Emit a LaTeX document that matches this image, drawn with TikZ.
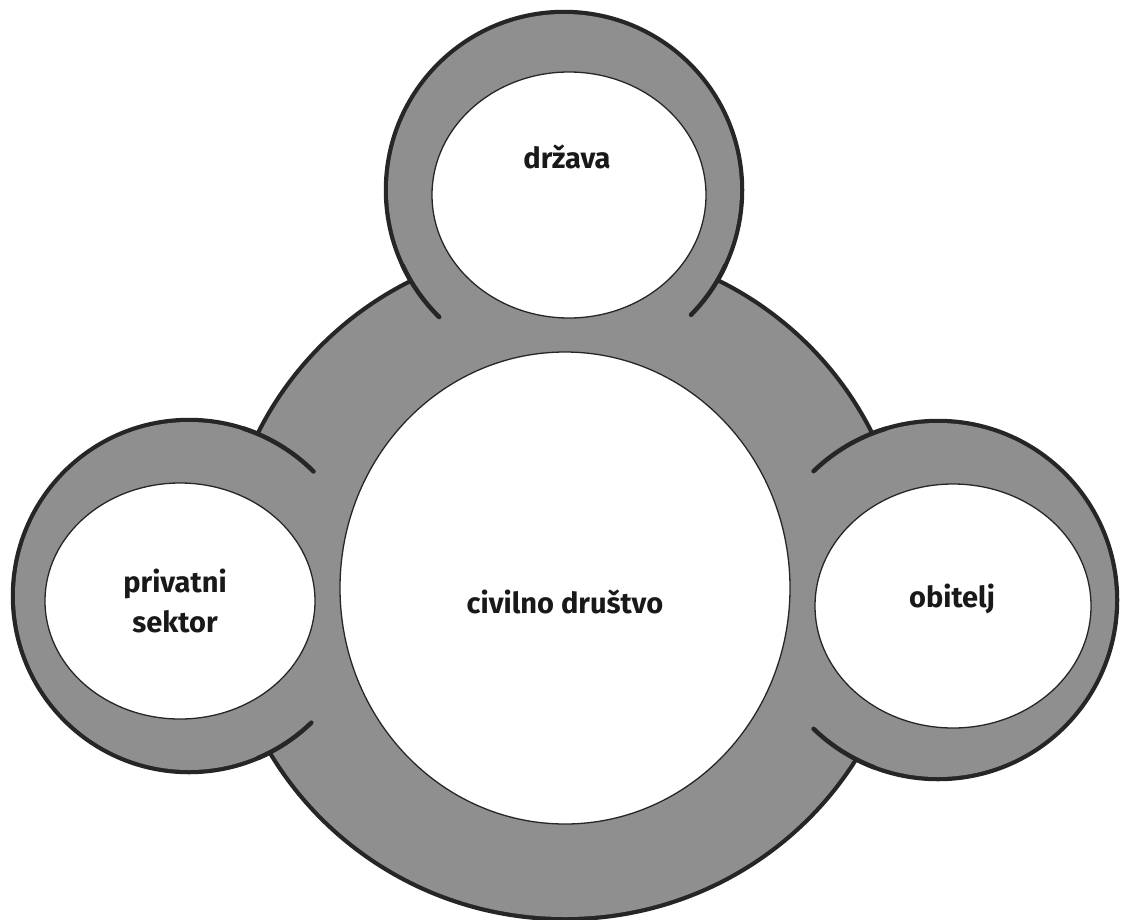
\documentclass[tikz,border=0pt]{standalone}
\usepackage{fontspec}
\setmainfont{Fira Sans}
\definecolor{band}{gray}{0.56}
\definecolor{edge}{gray}{0.15}
\definecolor{ink}{gray}{0.1}
\begin{document}
\begin{tikzpicture}[x=1pt,y=-1pt,
  outerline/.style={draw=edge,line width=8.5pt},
  bandfill/.style={fill=band},
  extline/.style={draw=edge,line width=4.5pt,line cap=round},
  hole/.style={fill=white,draw=edge,line width=1.3pt},
  lbl/.style={font=\bfseries\fontsize{29}{40}\selectfont,text=ink,align=center}]
\useasboundingbox (0,0) rectangle (1121,919);
\fill[white] (0,0) rectangle (1121,919);
% outline strokes (outer halves stay visible)
\draw[outerline] (565,582) ellipse [x radius=340,y radius=335];
\draw[outerline] (564,190) circle [radius=176];
\draw[outerline] (189,596) circle [radius=174];
\draw[outerline] (938,600) circle [radius=177];
% gray band fill
\fill[bandfill] (565,582) ellipse [x radius=340,y radius=335];
\fill[bandfill] (564,190) circle [radius=176];
\fill[bandfill] (189,596) circle [radius=174];
\fill[bandfill] (938,600) circle [radius=177];
% outline extensions into the central ring
\draw[extline] (564,190) ++(155:178.1) arc [start angle=155,end angle=134.5,radius=178.1];
\draw[extline] (564,190) ++(25:178.1) arc [start angle=25,end angle=44.5,radius=178.1];
\draw[extline] (189,596) ++(-72:176.1) arc [start angle=-72,end angle=-45,radius=176.1];
\draw[extline] (189,596) ++(67:176.1) arc [start angle=67,end angle=46,radius=176.1];
\draw[extline] (938,600) ++(-107:179.1) arc [start angle=-107,end angle=-134,radius=179.1];
\draw[extline] (938,600) ++(111:179.1) arc [start angle=111,end angle=134,radius=179.1];
% white holes
\draw[hole] (569,195) ellipse [x radius=137,y radius=123];
\draw[hole] (180,601) ellipse [x radius=135,y radius=118];
\draw[hole] (953,606) ellipse [x radius=138,y radius=122];
\draw[hole] (565,588) ellipse [x radius=225,y radius=236];
% labels
\node[lbl,anchor=base] (drzava) at (567,168) {država};
\node[lbl] (privatni) at (175,601) {privatni\\sektor};
\node[lbl,anchor=base] (civilno) at (565,613) {civilno društvo};
\node[lbl,anchor=base] (obitelj) at (952,607) {obitelj};
\end{tikzpicture}
\end{document}
